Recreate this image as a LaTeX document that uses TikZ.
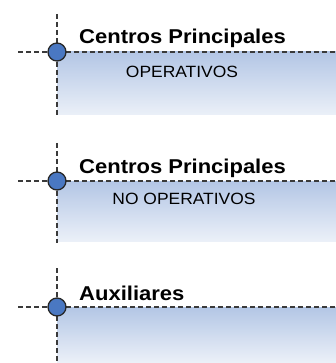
\documentclass[tikz,border=0pt]{standalone}
\usepackage{fontspec}
\setmainfont{Liberation Sans}
\usetikzlibrary{positioning}
\definecolor{dotblue}{HTML}{4A78C2}
\definecolor{bandtop}{HTML}{B3C6E5}
\definecolor{bandbot}{HTML}{EBF0F8}
\definecolor{dashgray}{HTML}{3A3A3A}

\begin{document}
\begin{tikzpicture}[x=1pt, y=-1pt,
  band/.style={top color=bandtop, bottom color=bandbot, draw=none},
  guide/.style={dashgray, line width=1.5pt, dash pattern=on 5pt off 3pt},
  dot/.style={circle, draw=black!85, fill=dotblue, line width=1.3pt, inner sep=0pt, minimum size=18pt},
  heading/.style={font=\fontsize{20}{20}\selectfont\bfseries, anchor=base west, inner sep=0pt, xscale=1.1},
  subheading/.style={font=\fontsize{16.3}{16.3}\selectfont, anchor=base, inner sep=0pt, xscale=1.07}]
\useasboundingbox (0,0) rectangle (336,363);

% operativos
\fill[band] (57,52) rectangle (336,115);
\coordinate (l1) at (18,52);
\coordinate (r1) at (336,52);
\coordinate (u1) at (57,14);
\coordinate (b1) at (57,115);
\draw[guide] (l1) -- (r1);
\draw[guide] (u1) -- (b1);
\node[dot] (d1) at (57,52) {};
\node[heading] (h1) at (79,44) {Centros Principales};
\node[subheading] (s1) at (182,77.5) {OPERATIVOS};

% no operativos
\fill[band] (57,181) rectangle (336,241);
\coordinate (l2) at (18,181);
\coordinate (r2) at (336,181);
\coordinate (u2) at (57,143);
\coordinate (b2) at (57,243);
\draw[guide] (l2) -- (r2);
\draw[guide] (u2) -- (b2);
\node[dot] (d2) at (57,181) {};
\node[heading] (h2) at (79,173.5) {Centros Principales};
\node[subheading] (s2) at (184,204) {NO OPERATIVOS};

% auxiliares
\fill[band] (57,307) rectangle (336,362);
\coordinate (l3) at (18,307);
\coordinate (r3) at (336,307);
\coordinate (u3) at (57,268);
\coordinate (b3) at (57,361);
\draw[guide] (l3) -- (r3);
\draw[guide] (u3) -- (b3);
\node[dot] (d3) at (57,307) {};
\node[heading] (h3) at (79,300) {Auxiliares};

\end{tikzpicture}
\end{document}
